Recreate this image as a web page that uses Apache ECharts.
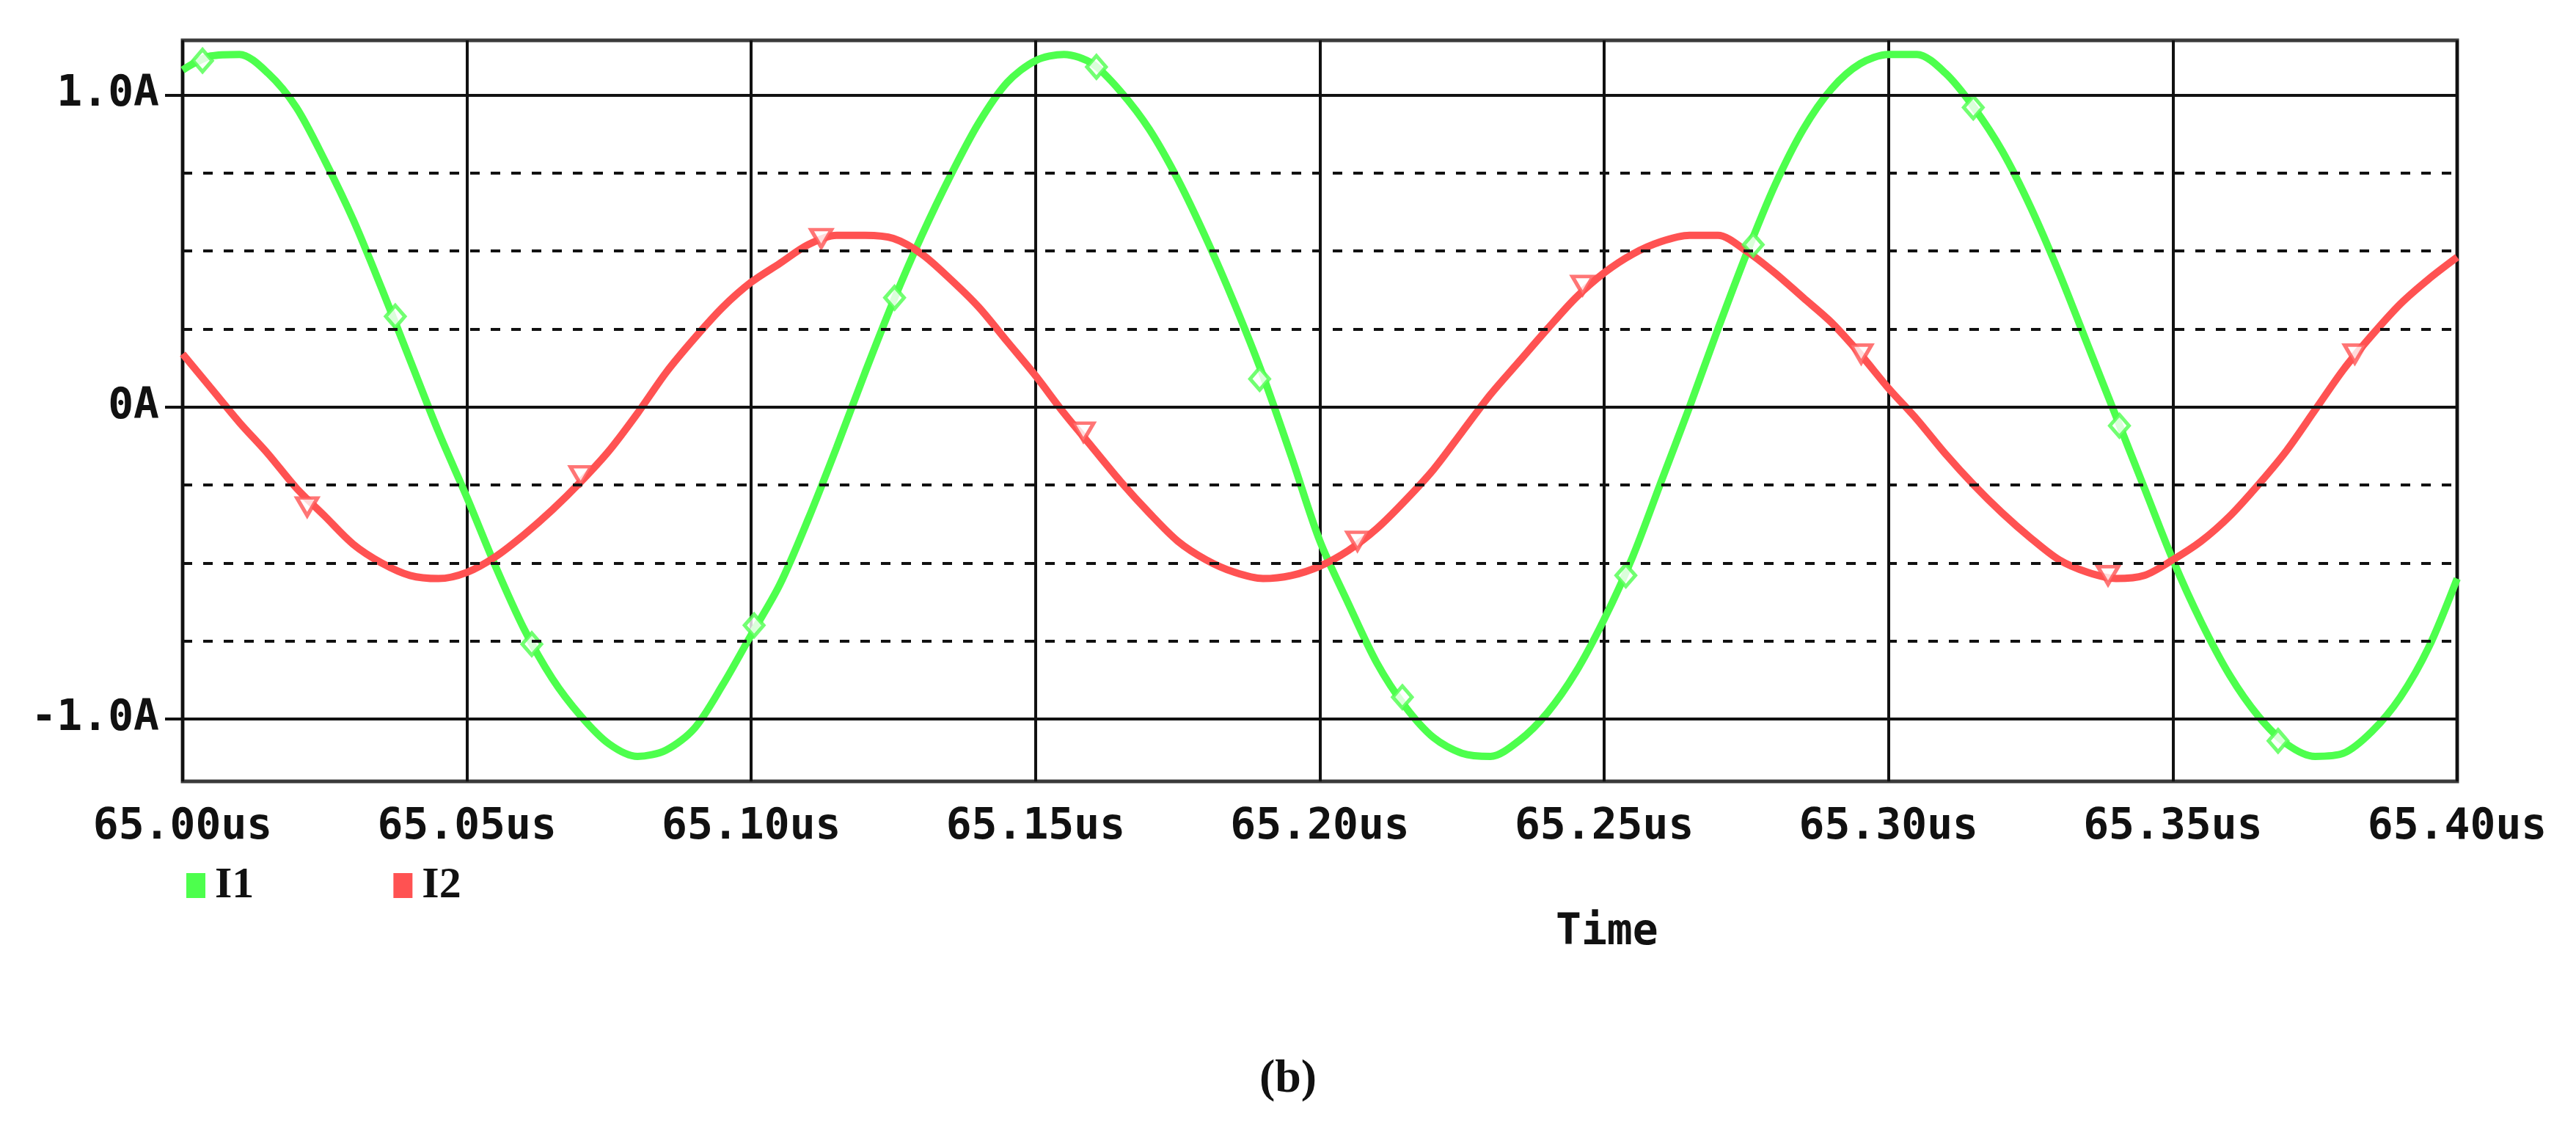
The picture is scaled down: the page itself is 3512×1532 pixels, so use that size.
<!DOCTYPE html>
<html>
<head>
<meta charset="utf-8">
<script src="https://cdn.jsdelivr.net/npm/echarts@6/dist/echarts.min.js"></script>
<style>
  html, body { margin: 0; padding: 0; background: #fff; }
  #chart { width: 3512px; height: 1532px; }
</style>
</head>
<body>
<div id="chart"></div>
<script>
// time axis samples (us)
const timeUs = [
  65.000, 65.005, 65.010, 65.015, 65.020, 65.025, 65.030, 65.035, 65.040, 65.045,
  65.050, 65.055, 65.060, 65.065, 65.070, 65.075, 65.080, 65.085, 65.090, 65.095,
  65.100, 65.105, 65.110, 65.115, 65.120, 65.125, 65.130, 65.135, 65.140, 65.145,
  65.150, 65.155, 65.160, 65.165, 65.170, 65.175, 65.180, 65.185, 65.190, 65.195,
  65.200, 65.205, 65.210, 65.215, 65.220, 65.225, 65.230, 65.235, 65.240, 65.245,
  65.250, 65.255, 65.260, 65.265, 65.270, 65.275, 65.280, 65.285, 65.290, 65.295,
  65.300, 65.305, 65.310, 65.315, 65.320, 65.325, 65.330, 65.335, 65.340, 65.345,
  65.350, 65.355, 65.360, 65.365, 65.370, 65.375, 65.380, 65.385, 65.390, 65.395,
  65.400
];

// I1 (A)
const i1 = [
  1.08, 1.125, 1.13, 1.07, 0.96, 0.79, 0.60, 0.38, 0.15, -0.08,
  -0.29, -0.51, -0.71, -0.87, -0.99, -1.08, -1.12, -1.10, -1.03, -0.89,
  -0.73, -0.57, -0.36, -0.13, 0.11, 0.34, 0.55, 0.74, 0.91, 1.04,
  1.11, 1.13, 1.10, 1.01, 0.89, 0.73, 0.54, 0.33, 0.10, -0.16,
  -0.43, -0.63, -0.82, -0.96, -1.06, -1.11, -1.12, -1.07, -0.98, -0.85,
  -0.68, -0.48, -0.24, 0.00, 0.25, 0.49, 0.71, 0.89, 1.02, 1.10,
  1.13, 1.13, 1.07, 0.96, 0.82, 0.64, 0.43, 0.20, -0.03, -0.26,
  -0.49, -0.69, -0.86, -0.99, -1.08, -1.12, -1.11, -1.04, -0.93, -0.77,
  -0.55
];

// I2 (A)
const i2 = [
  0.17, 0.06, -0.05, -0.15, -0.26, -0.35, -0.44, -0.50, -0.54, -0.55,
  -0.53, -0.48, -0.41, -0.33, -0.24, -0.14, -0.02, 0.11, 0.22, 0.32,
  0.40, 0.46, 0.52, 0.55, 0.55, 0.54, 0.49, 0.41, 0.32, 0.21,
  0.10, -0.02, -0.13, -0.24, -0.34, -0.43, -0.49, -0.53, -0.55, -0.54,
  -0.51, -0.46, -0.39, -0.30, -0.20, -0.08, 0.04, 0.145, 0.25, 0.35,
  0.43, 0.49, 0.53, 0.55, 0.55, 0.50, 0.43, 0.35, 0.27, 0.17,
  0.06, -0.04, -0.15, -0.25, -0.34, -0.42, -0.49, -0.53, -0.55, -0.54,
  -0.49, -0.43, -0.35, -0.25, -0.14, -0.01, 0.12, 0.23, 0.33, 0.41,
  0.48
];

// probe markers drawn by the simulator on each trace [time, value]
const i1Marks = [
  [65.0035, 1.11], [65.0374, 0.29], [65.0614, -0.76], [65.1005, -0.70],
  [65.1252, 0.35], [65.1607, 1.09], [65.1894, 0.09], [65.2145, -0.93],
  [65.2538, -0.54], [65.2762, 0.52], [65.3149, 0.96], [65.3406, -0.06],
  [65.3685, -1.07]
];
const i2Marks = [
  [65.0219, -0.32], [65.0700, -0.22], [65.1123, 0.54], [65.1584, -0.08],
  [65.2066, -0.43], [65.2462, 0.39], [65.2952, 0.17], [65.3386, -0.54],
  [65.3820, 0.17]
];

const solidLevels = [-1, 0, 1];
const dashedLevels = [-0.75, -0.5, -0.25, 0.25, 0.5, 0.75];

const GREEN = '#4dff4d';
const RED = '#ff5252';
const INK = '#111';
const MONO = '"DejaVu Sans Mono", monospace';
const SERIF = '"Liberation Serif", "DejaVu Serif", serif';

const pairs = (ys) => timeUs.map((t, k) => [t, ys[k]]);

const chart = echarts.init(document.getElementById('chart'), null, { renderer: 'canvas' });

const guideLines = [
  ...solidLevels.map((v) => ({ yAxis: v, lineStyle: { type: 'solid', width: 4, color: INK } })),
  ...dashedLevels.map((v) => ({ yAxis: v, lineStyle: { type: [13, 15], width: 4, color: INK } })),
];

chart.setOption({
  animation: false,
  backgroundColor: '#fff',
  title: [
    {
      text: 'Time', left: 2116, top: 1238,
      textStyle: { fontFamily: MONO, fontWeight: 'bold', fontSize: 58, color: INK },
    },
    {
      text: '{p|(}{b|b}{p|)}', left: 'center', top: 1434,
      textStyle: {
        rich: {
          p: { fontFamily: SERIF, fontSize: 64, color: INK },
          b: { fontFamily: SERIF, fontSize: 64, fontWeight: 'bold', color: INK },
        },
      },
    },
  ],
  legend: {
    left: 249, top: 1172,
    itemWidth: 26, itemHeight: 34, itemGap: 190,
    selectedMode: false,
    data: [{ name: 'I1', icon: 'rect' }, { name: 'I2', icon: 'rect' }],
    textStyle: { fontFamily: SERIF, fontWeight: 'bold', fontSize: 60, color: INK, padding: [0, 0, 0, 8] },
  },
  grid: {
    left: 249, right: 162, top: 55, bottom: 467,
    show: true, borderColor: '#3a3a3a', borderWidth: 5, backgroundColor: '#fff',
  },
  xAxis: {
    type: 'value', min: 65.0, max: 65.4, interval: 0.05,
    axisLine: { show: false },
    axisTick: { show: true, length: 22, lineStyle: { color: INK, width: 4 } },
    axisLabel: {
      margin: 34, fontFamily: MONO, fontWeight: 'bold', fontSize: 58, color: INK,
      formatter: (v) => v.toFixed(2) + 'us',
    },
    splitLine: { show: true, lineStyle: { color: INK, width: 4 } },
  },
  yAxis: {
    type: 'value', min: -1.2, max: 1.175,
    axisLine: { show: false },
    axisTick: { show: true, customValues: solidLevels, length: 24, lineStyle: { color: INK, width: 4 } },
    axisLabel: {
      customValues: solidLevels, margin: 32,
      fontFamily: MONO, fontWeight: 'bold', fontSize: 58, color: INK,
      formatter: (v) => (v === 0 ? '0A' : v.toFixed(1) + 'A'),
    },
    splitLine: { show: false },
  },
  series: [
    {
      name: 'guides', type: 'line', data: [], z: 1, silent: true,
      markLine: { silent: true, symbol: ['none', 'none'], label: { show: false }, data: guideLines },
    },
    {
      name: 'I1', type: 'line', data: pairs(i1), z: 3, smooth: 0.3,
      showSymbol: false, color: GREEN,
      lineStyle: { color: GREEN, width: 10 },
    },
    {
      name: 'I2', type: 'line', data: pairs(i2), z: 3, smooth: 0.3,
      showSymbol: false, color: RED,
      lineStyle: { color: RED, width: 10 },
    },
    {
      name: 'I1 marks', type: 'scatter', data: i1Marks, z: 4,
      symbol: 'diamond', symbolSize: [26, 30],
      itemStyle: { color: '#fff', borderColor: GREEN, borderWidth: 5 },
    },
    {
      name: 'I2 marks', type: 'scatter', data: i2Marks, z: 4,
      symbol: 'triangle', symbolRotate: 180, symbolSize: [28, 24],
      itemStyle: { color: '#fff', borderColor: RED, borderWidth: 5 },
    },
  ],
});
</script>
</body>
</html>
